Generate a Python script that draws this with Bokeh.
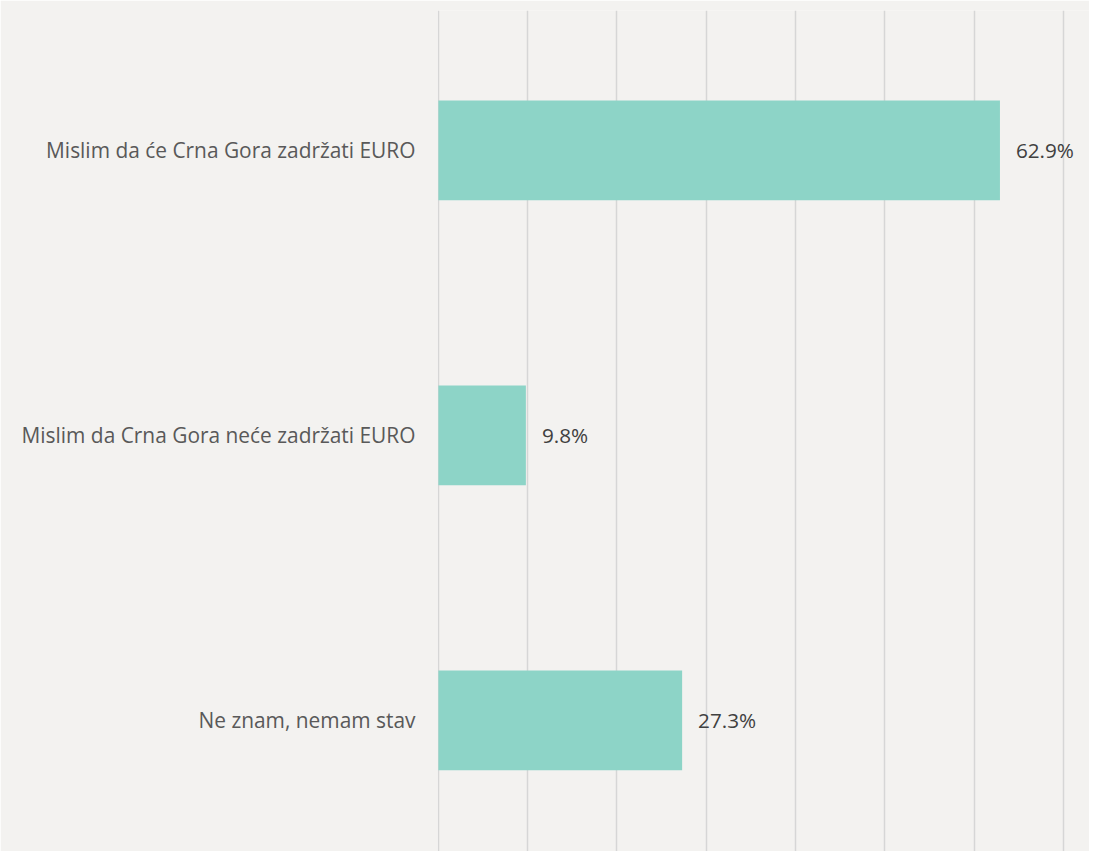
from bokeh.plotting import figure
from bokeh.models import Range1d, ColumnDataSource, LabelSet, FixedTicker
from bokeh.core.properties import value
from bokeh.embed import file_html
from bokeh.resources import INLINE

categories = [
    "Mislim da će Crna Gora zadržati EURO",
    "Mislim da Crna Gora neće zadržati EURO",
    "Ne znam, nemam stav",
]
values = [62.9, 9.8, 27.3]
value_labels = ["62.9%", "9.8%", "27.3%"]
grid_ticks = [0, 10, 20, 30, 40, 50, 60, 70]

bg = "#f3f2f0"
n = len(categories)
ypos = [n - 1 - i for i in range(n)]

p = figure(
    width=1089, height=851,
    y_range=Range1d(-0.460, 2.491),
    x_range=Range1d(-0.1, 72.93),
    output_backend="svg", toolbar_location=None,
    min_border_left=437, min_border_right=0, min_border_top=10, min_border_bottom=0,
    background_fill_color=bg, border_fill_color=bg,
)
p.outline_line_color = None

src = ColumnDataSource(dict(y=ypos, val=values, lab=value_labels))
p.hbar(y="y", right="val", left=0, height=0.35, source=src,
       fill_color="#8dd4c7", line_color=None)

labels = LabelSet(x="val", y="y", text="lab", source=src, x_offset=16,
                  text_font=value("Open Sans"), text_font_size="20.7px", text_color="#404040",
                  text_baseline="middle", text_align="left")
p.add_layout(labels)

p.xaxis.visible = False
p.xgrid.ticker = FixedTicker(ticks=grid_ticks)
p.xgrid.grid_line_color = "#d6d6d6"
p.xgrid.grid_line_width = 1.5
p.ygrid.grid_line_color = None

ya = p.yaxis[0]
ya.ticker = FixedTicker(ticks=ypos)
ya.major_label_overrides = {y: c for y, c in zip(ypos, categories)}
ya.axis_line_color = None
ya.major_tick_line_color = None
ya.minor_tick_line_color = None
ya.major_label_standoff = 16
ya.major_label_text_font = "Open Sans"
ya.major_label_text_font_size = "20.9px"
ya.major_label_text_color = "#595959"

open("out.html", "w").write(file_html(p, INLINE))
